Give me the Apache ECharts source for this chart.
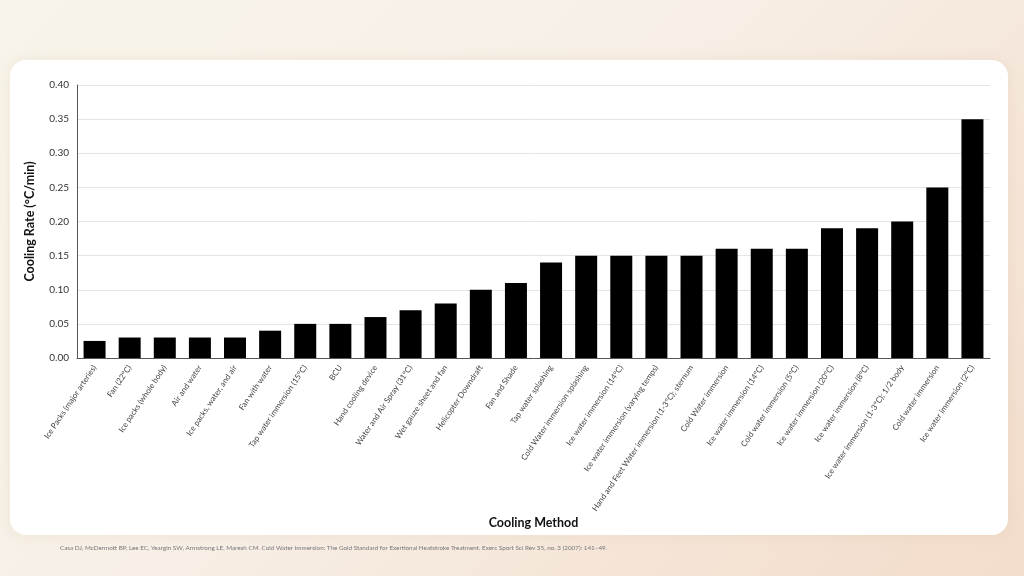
<!DOCTYPE html>
<html>
<head>
<meta charset="UTF-8">
<script src="https://cdn.jsdelivr.net/npm/echarts@6/dist/echarts.min.js"></script>
<style>
html, body { margin: 0; padding: 0; width: 1024px; height: 576px; overflow: hidden; }
body { background: linear-gradient(135deg, #f8f4ea 0%, #f7efe6 45%, #f3dcca 100%); position: relative; }
#card { position: absolute; left: 10px; top: 60px; width: 998px; height: 475px; background: #fff; border-radius: 16px; box-shadow: 0 0 14px rgba(200, 170, 140, 0.18); }
#chart { position: absolute; left: 0; top: 0; width: 1024px; height: 576px; }
</style>
</head>
<body>
<div id="card"></div>
<div id="chart"></div>
<script>
// categories and values
const methods = [
    'Ice Packs (major arteries)',
    'Fan (22°C)',
    'Ice packs (whole body)',
    'Air and water',
    'Ice packs, water, and air',
    'Fan with water',
    'Tap water immersion (15°C)',
    'BCU',
    'Hand cooling device',
    'Water and Air Spray (31°C)',
    'Wet gauze sheet and fan',
    'Helicopter Downdraft',
    'Fan and Shade',
    'Tap water splashing',
    'Cold Water immersion splashing',
    'Ice water immersion (14°C)',
    'Ice water immersion (varying temps)',
    'Hand and Feet Water immersion (1-3°C); sternum',
    'Cold Water immersion',
    'Ice water immersion (14°C)',
    'Cold water immersion (5°C)',
    'Ice water immersion (20°C)',
    'Ice water immersion (8°C)',
    'Ice water immersion (1-3°C); 1/2 body',
    'Cold water immersion',
    'Ice water immersion (2°C)'
];

const coolingRate = [
    0.025, 0.03, 0.03, 0.03, 0.03, 0.04, 0.05, 0.05, 0.06, 0.07,
    0.08, 0.10, 0.11, 0.14, 0.15, 0.15, 0.15, 0.15, 0.16, 0.16,
    0.16, 0.19, 0.19, 0.20, 0.25, 0.35
];

const citation = 'Casa DJ, McDermott BP, Lee EC, Yeargin SW, Armstrong LE, Maresh CM. Cold Water Immersion: The Gold Standard for Exertional Heatstroke Treatment. Exerc Sport Sci Rev 35, no. 3 (2007): 141–49.';

const FONT = 'Lato, "Noto Sans", sans-serif';

const chart = echarts.init(document.getElementById('chart'), null, { renderer: 'canvas' });

chart.setOption({
    animation: false,
    backgroundColor: 'transparent',
    textStyle: { fontFamily: FONT },
    grid: { left: 77, right: 34, top: 85, bottom: 218, containLabel: false },
    xAxis: {
        type: 'category',
        data: methods,
        name: 'Cooling Method',
        nameLocation: 'middle',
        nameGap: 158,
        nameTextStyle: { fontSize: 12.5, fontWeight: 'bold', color: '#111', fontFamily: FONT },
        axisLine: { lineStyle: { color: '#555', width: 1 } },
        axisTick: { show: false },
        axisLabel: { interval: 0, rotate: 56, fontSize: 8, color: '#444', margin: 8, fontFamily: FONT }
    },
    yAxis: {
        type: 'value',
        min: 0,
        max: 0.4,
        interval: 0.05,
        name: 'Cooling Rate (°C/min)',
        nameLocation: 'middle',
        nameGap: 41,
        nameTextStyle: { fontSize: 12.5, fontWeight: 'bold', color: '#111', fontFamily: FONT },
        axisLine: { show: true, lineStyle: { color: '#555', width: 1 } },
        axisTick: { show: false },
        axisLabel: { fontSize: 10, color: '#333', margin: 8, formatter: v => v.toFixed(2), fontFamily: FONT },
        splitLine: { lineStyle: { color: '#e4e4e4', width: 1 } }
    },
    series: [{
        type: 'bar',
        data: coolingRate,
        barWidth: 22,
        itemStyle: { color: '#000' }
    }],
    graphic: [{
        type: 'text',
        left: 60,
        top: 545,
        style: { text: citation, fontSize: 6.3, fill: '#777', fontFamily: FONT }
    }]
});
</script>
</body>
</html>
